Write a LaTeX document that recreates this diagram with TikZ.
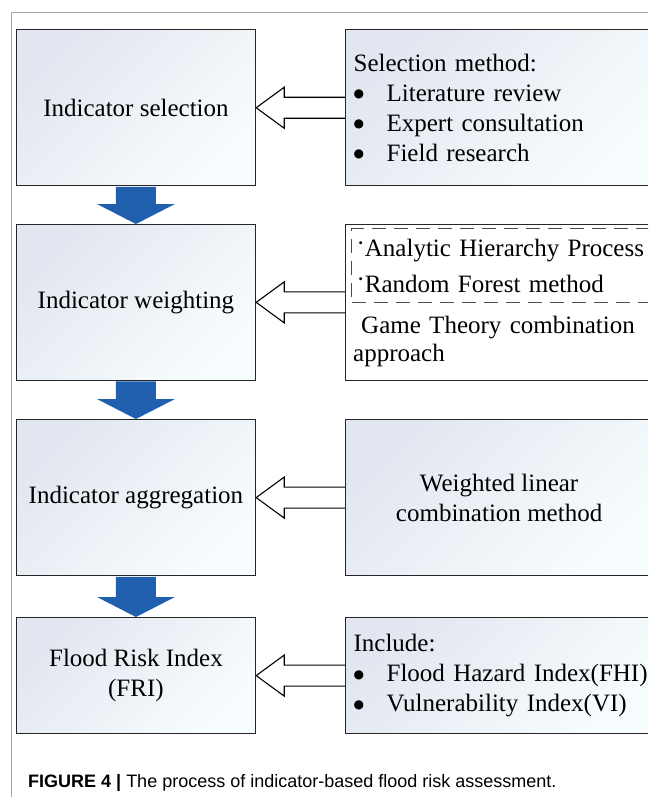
\documentclass[tikz,border=0pt]{standalone}
\usepackage{fontspec}
\setmainfont{Liberation Serif}
\newfontfamily\capfont{Liberation Sans}
\newfontfamily\symfont{DejaVu Sans}
\usepackage{tikz}
\usetikzlibrary{calc}

\definecolor{flowblue}{HTML}{1F5FAD}
\definecolor{shadetl}{HTML}{E2E6F0}
\definecolor{shadebr}{HTML}{F7FDFE}
\newcommand{\mitem}{\makebox[33pt][l]{\raisebox{3.5pt}{\symfont\fontsize{12}{12}\selectfont ●}}}
\newcommand{\mdot}{\raisebox{5pt}{·}}

\tikzset{
	box/.style={draw=black!85, line width=1.2pt, inner sep=0pt, anchor=north west},
	stepbox/.style={box, top color=shadetl, bottom color=shadebr, shading angle=45, minimum width=239.3pt},
	methodbox/.style={stepbox, minimum width=307pt},
	hollow/.style={draw=black, line width=1.1pt},
}

\begin{document}
\begin{tikzpicture}[x=1pt, y=-1pt, font=\fontsize{25}{30}\selectfont]
		\useasboundingbox (0,0) rectangle (648,797);
		\clip (0,0) rectangle (648,797);
		\draw[black!35, line width=1.5pt] (660,12.7) -- (11.7,12.7) -- (11.7,800);

		\node[stepbox, minimum height=155.7pt] (sel) at (15.7,29.3) {Indicator selection};
		\node[stepbox, minimum height=155.5pt] (wgt) at (15.7,224) {Indicator weighting};
		\node[stepbox, minimum height=156pt] (agg) at (15.7,419) {Indicator aggregation};
		\node[stepbox, minimum height=116pt, align=center] (fri) at (15.7,617) {Flood Risk Index\\(FRI)};

		\node[methodbox, minimum height=155.7pt, inner xsep=8pt, text width=295pt, align=left] (selm) at (345,29.3)
			{Selection method:\\\mitem Literature review\\\mitem Expert consultation\\\mitem Field research};
		\node[box, fill=white, minimum width=307pt, minimum height=155.5pt] (wgtm) at (345,224) {};
		\node[box, draw=black!70, dash pattern=on 14pt off 8pt, minimum width=310pt, minimum height=74pt,
			inner xsep=5pt, text width=300pt, align=left, font=\fontsize{25}{36}\selectfont] (ahp) at (351,228)
			{\mdot Analytic Hierarchy Process\\\mdot Random Forest method};
		\node[anchor=base west, inner sep=0pt, text width=295pt, align=left, font=\fontsize{25}{28}\selectfont] (game) at (353,333)
			{\hspace{8pt}Game Theory combination\\approach};
		\node[methodbox, minimum height=156pt, align=center] (aggm) at (345,419) {Weighted linear\\combination method};
		\node[methodbox, minimum height=116pt, inner xsep=8pt, text width=295pt, align=left] (frim) at (345,617)
			{Include:\\\mitem Flood Hazard Index(FHI)\\\mitem Vulnerability Index(VI)};

		\foreach \a/\b in {selm/sel, wgtm/wgt, aggm/agg, frim/fri} {
			\draw[hollow] ($(\a.west)+(0,-10.5)$) -- ($(\b.east)+(28,-10.5)$) -- ($(\b.east)+(28,-20.5)$) -- (\b.east)
				-- ($(\b.east)+(28,20.5)$) -- ($(\b.east)+(28,10.5)$) -- ($(\a.west)+(0,10.5)$);
		}
		\foreach \a/\b in {sel/wgt, wgt/agg, agg/fri} {
			\fill[flowblue] ($(\a.south)+(-20,0.6)$) -- ($(\a.south)+(20,0.6)$) -- ($(\b.north)+(20,-20)$) -- ($(\b.north)+(39,-20)$)
				-- (\b.north) -- ($(\b.north)+(-39,-20)$) -- ($(\b.north)+(-20,-20)$) -- cycle;
		}

		\node[anchor=base west, inner sep=0pt, font=\capfont\fontsize{18}{22}\selectfont] (cap) at (28,787)
			{\textbf{FIGURE 4 |} The process of indicator-based flood risk assessment.};
	\end{tikzpicture}
\end{document}
